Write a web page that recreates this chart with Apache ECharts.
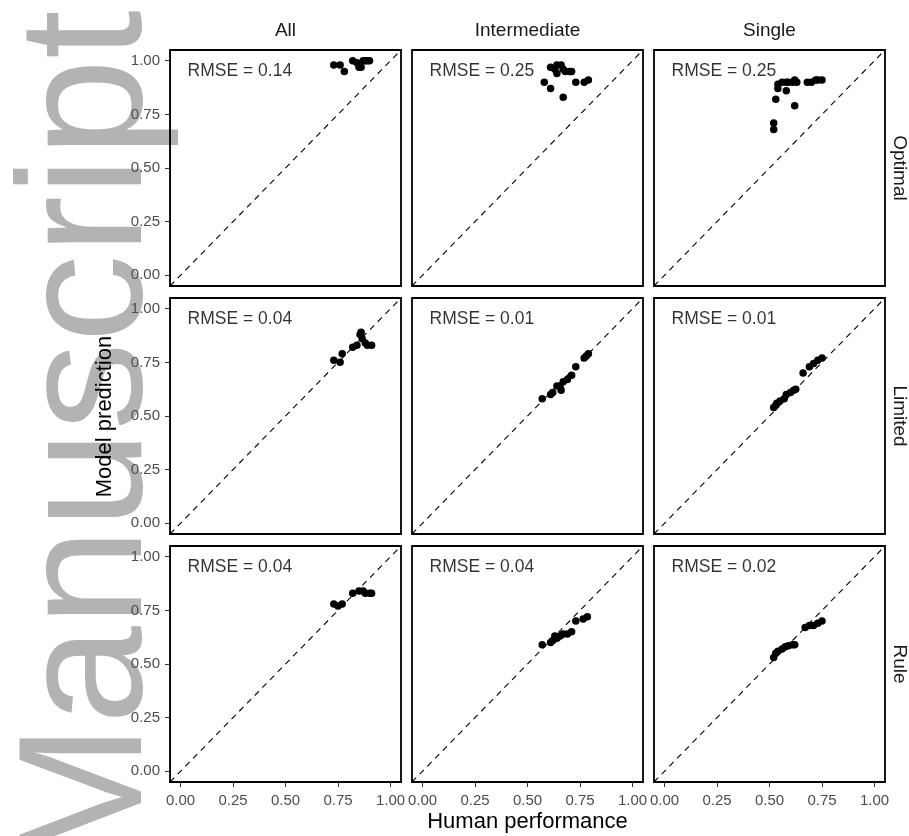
<!DOCTYPE html>
<html>
<head>
<meta charset="utf-8">
<script src="https://cdn.jsdelivr.net/npm/echarts@6/dist/echarts.min.js"></script>
<style>html,body{margin:0;padding:0;background:#fff}#chart{width:909px;height:836px}</style>
</head>
<body>
<div id="chart"></div>
<script>
// ---- data ----
const colNames = ['All', 'Intermediate', 'Single'];
const rowNames = ['Optimal', 'Limited', 'Rule'];
const rmseValues = [
  ['0.14', '0.25', '0.25'],
  ['0.04', '0.01', '0.01'],
  ['0.04', '0.04', '0.02']
];
const tickValues = [0, 0.25, 0.5, 0.75, 1.0];
const tickLabels = ['0.00', '0.25', '0.50', '0.75', '1.00'];
const identityLine = [[-0.05, -0.05], [1.05, 1.05]];

const human_opt_all = [0.73, 0.76, 0.78, 0.82, 0.84, 0.85, 0.86, 0.87, 0.88, 0.89, 0.90];
const model_opt_all = [0.98, 0.98, 0.95, 1.00, 0.99, 0.97, 0.97, 1.00, 1.00, 1.00, 1.00];
const human_lim_all = [0.73, 0.76, 0.77, 0.82, 0.84, 0.855, 0.86, 0.865, 0.88, 0.89, 0.91];
const model_lim_all = [0.76, 0.75, 0.79, 0.82, 0.83, 0.88, 0.89, 0.86, 0.84, 0.83, 0.83];
const human_rule_all = [0.73, 0.75, 0.77, 0.82, 0.85, 0.87, 0.88, 0.90, 0.91];
const model_rule_all = [0.78, 0.77, 0.78, 0.83, 0.84, 0.84, 0.83, 0.83, 0.83];

const human_opt_int = [0.58, 0.61, 0.63, 0.64, 0.66, 0.67, 0.68, 0.70, 0.71, 0.64, 0.61, 0.67, 0.73, 0.77, 0.79];
const model_opt_int = [0.90, 0.97, 0.96, 0.98, 0.98, 0.96, 0.95, 0.95, 0.95, 0.94, 0.87, 0.83, 0.90, 0.90, 0.91];
const human_lim_int = [0.57, 0.61, 0.62, 0.64, 0.655, 0.66, 0.67, 0.69, 0.71, 0.73, 0.77, 0.78, 0.79];
const model_lim_int = [0.58, 0.60, 0.61, 0.64, 0.64, 0.62, 0.66, 0.67, 0.69, 0.73, 0.77, 0.78, 0.79];
const human_rule_int = [0.57, 0.61, 0.62, 0.63, 0.64, 0.655, 0.67, 0.69, 0.71, 0.73, 0.765, 0.785];
const model_rule_int = [0.59, 0.60, 0.61, 0.63, 0.62, 0.63, 0.64, 0.64, 0.65, 0.70, 0.71, 0.72];

const human_opt_sgl = [0.52, 0.52, 0.53, 0.54, 0.54, 0.56, 0.58, 0.58, 0.59, 0.61, 0.62, 0.63, 0.62, 0.68, 0.70, 0.72, 0.73, 0.75];
const model_opt_sgl = [0.68, 0.71, 0.82, 0.87, 0.89, 0.90, 0.90, 0.86, 0.90, 0.90, 0.91, 0.90, 0.79, 0.90, 0.90, 0.91, 0.91, 0.91];
const human_lim_sgl = [0.52, 0.53, 0.535, 0.55, 0.57, 0.58, 0.60, 0.615, 0.625, 0.66, 0.69, 0.71, 0.73, 0.75];
const model_lim_sgl = [0.54, 0.55, 0.56, 0.57, 0.58, 0.60, 0.61, 0.62, 0.625, 0.70, 0.73, 0.745, 0.76, 0.77];
const human_rule_sgl = [0.52, 0.53, 0.54, 0.56, 0.575, 0.59, 0.61, 0.62, 0.67, 0.69, 0.71, 0.73, 0.75];
const model_rule_sgl = [0.53, 0.55, 0.56, 0.57, 0.58, 0.585, 0.59, 0.59, 0.67, 0.68, 0.68, 0.69, 0.70];

const panelHuman = [
  [human_opt_all, human_opt_int, human_opt_sgl],
  [human_lim_all, human_lim_int, human_lim_sgl],
  [human_rule_all, human_rule_int, human_rule_sgl]
];
const panelModel = [
  [model_opt_all, model_opt_int, model_opt_sgl],
  [model_lim_all, model_lim_int, model_lim_sgl],
  [model_rule_all, model_rule_int, model_rule_sgl]
];

// ---- layout ----
const FONT = '"Liberation Sans", Arial, Helvetica, sans-serif';
const colLeft = [170, 412, 654];
const rowTop = [50, 298, 546];
const PW = 231, PH = 236;
const labelPos = [0.036, 0.95]; // annotation position in data units

const grids = [], xAxes = [], yAxes = [], series = [];
for (let r = 0; r < 3; r++) {
  for (let c = 0; c < 3; c++) {
    const i = r * 3 + c;
    grids.push({
      left: colLeft[c], top: rowTop[r], width: PW, height: PH,
      show: true, borderColor: '#000', borderWidth: 1.8, backgroundColor: 'transparent'
    });
    const fmt = v => { const k = tickValues.indexOf(v); return k >= 0 ? tickLabels[k] : v.toFixed(2); };
    xAxes.push({
      gridIndex: i, type: 'value', min: -0.05, max: 1.05,
      splitLine: { show: false },
      axisLine: { show: r === 2, onZero: false, lineStyle: { color: '#000', width: 1 } },
      axisTick: { show: r === 2, length: 5, customValues: tickValues, lineStyle: { color: '#333', width: 1 } },
      axisLabel: { show: r === 2, customValues: tickValues, formatter: fmt, color: '#4d4d4d',
                   fontSize: 15, fontFamily: FONT, margin: 11 }
    });
    yAxes.push({
      gridIndex: i, type: 'value', min: -0.05, max: 1.05,
      splitLine: { show: false },
      axisLine: { show: c === 0, onZero: false, lineStyle: { color: '#000', width: 1 } },
      axisTick: { show: c === 0, length: 5, customValues: tickValues, lineStyle: { color: '#333', width: 1 } },
      axisLabel: { show: c === 0, customValues: tickValues, formatter: fmt, color: '#4d4d4d',
                   fontSize: 15, fontFamily: FONT, margin: 10 }
    });
    series.push({
      type: 'line', xAxisIndex: i, yAxisIndex: i, data: identityLine,
      symbol: 'none', silent: true, z: 2,
      lineStyle: { color: '#000', width: 1.1, type: [6, 5] }
    });
    const hx = panelHuman[r][c], my = panelModel[r][c];
    series.push({
      type: 'scatter', xAxisIndex: i, yAxisIndex: i, z: 3,
      data: hx.map((v, k) => [v, my[k]]),
      symbolSize: 7.5, itemStyle: { color: '#000', opacity: 1 }
    });
    series.push({
      type: 'scatter', xAxisIndex: i, yAxisIndex: i, z: 4, silent: true,
      data: [labelPos], symbolSize: 1, itemStyle: { color: 'rgba(0,0,0,0)' },
      label: { show: true, formatter: 'RMSE = ' + rmseValues[r][c], position: [0, 0],
               align: 'left', verticalAlign: 'middle', fontSize: 17.5, fontFamily: FONT, color: '#000' }
    });
  }
}

const graphics = [
  { type: 'text', x: 92, y: 10, rotation: Math.PI / 2, z: -10, silent: true,
    style: { text: 'Manuscript', fontSize: 176, fontFamily: FONT, fill: '#b3b3b3',
             align: 'right', verticalAlign: 'middle' } },
  { type: 'text', x: 105, y: 416.5, rotation: Math.PI / 2, silent: true,
    style: { text: 'Model prediction', fontSize: 22, fontFamily: FONT, fill: '#000',
             align: 'center', verticalAlign: 'middle' } },
  { type: 'text', x: 527.5, y: 822, silent: true,
    style: { text: 'Human performance', fontSize: 22, fontFamily: FONT, fill: '#000',
             align: 'center', verticalAlign: 'middle' } }
];
colNames.forEach((n, c) => graphics.push({
  type: 'text', x: colLeft[c] + PW / 2, y: 31, silent: true,
  style: { text: n, fontSize: 19, fontFamily: FONT, fill: '#1a1a1a', align: 'center', verticalAlign: 'middle' }
}));
rowNames.forEach((n, r) => graphics.push({
  type: 'text', x: 899, y: rowTop[r] + PH / 2, rotation: -Math.PI / 2, silent: true,
  style: { text: n, fontSize: 19, fontFamily: FONT, fill: '#1a1a1a', align: 'center', verticalAlign: 'middle' }
}));

const chart = echarts.init(document.getElementById('chart'), null, { renderer: 'canvas' });
chart.setOption({
  backgroundColor: '#fff',
  animation: false,
  grid: grids, xAxis: xAxes, yAxis: yAxes, series: series,
  graphic: { elements: graphics }
});
</script>
</body>
</html>
